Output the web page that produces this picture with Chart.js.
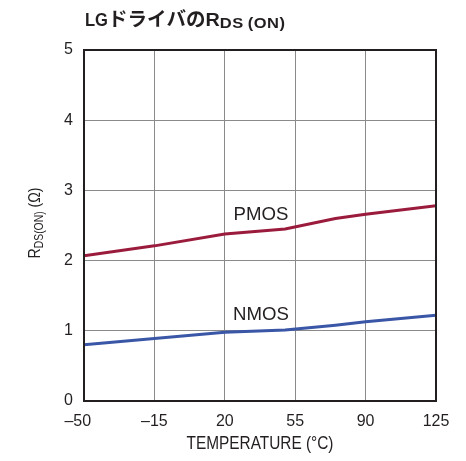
<!DOCTYPE html>
<html lang="ja">
<head>
<meta charset="UTF-8">
<title>LG driver RDS(ON)</title>
<script src="https://cdn.jsdelivr.net/npm/chart.js"></script>
<style>
  html, body { margin: 0; padding: 0; background: #fff; }
</style>
</head>
<body>
<canvas id="chart" width="466" height="461"></canvas>
<script>
const temps = [-50, -15, 20, 50, 75, 90, 125];
const pmos = [2.07, 2.21, 2.38, 2.45, 2.60, 2.66, 2.78];
const nmos = [0.80, 0.89, 0.98, 1.01, 1.08, 1.13, 1.22];
const xTicks = [-50, -15, 20, 55, 90, 125];
const seriesLabels = [
  { text: 'PMOS', x: 38, y: 2.68 },
  { text: 'NMOS', x: 38, y: 1.25 }
];

const ink = '#231f20';
const sans = '"Liberation Sans", Arial, sans-serif';
const jp = '"Noto Sans CJK JP", sans-serif';

// draw a run of text pieces, each with its own font / horizontal squeeze / baseline shift
function drawRun(ctx, parts, x, y) {
  let cx = x;
  parts.forEach(p => {
    ctx.save();
    ctx.font = p.f;
    ctx.letterSpacing = (p.ls || 0) + 'px';
    const w = ctx.measureText(p.t).width * (p.sx || 1);
    ctx.translate(cx, y + (p.dy || 0));
    ctx.scale(p.sx || 1, 1);
    ctx.fillText(p.t, 0, 0);
    ctx.restore();
    cx += w;
  });
  return cx - x;
}

function runWidth(ctx, parts) {
  let w = 0;
  parts.forEach(p => {
    ctx.save();
    ctx.font = p.f;
    ctx.letterSpacing = (p.ls || 0) + 'px';
    w += ctx.measureText(p.t).width * (p.sx || 1);
    ctx.restore();
  });
  return w;
}

const extras = {
  id: 'extras',
  afterDatasetsDraw(chart) {
    const { ctx, chartArea: a, scales: { x, y } } = chart;
    ctx.save();
    // frame
    ctx.strokeStyle = ink;
    ctx.lineWidth = 2;
    ctx.strokeRect(a.left, a.top, a.right - a.left, a.bottom - a.top);

    ctx.fillStyle = ink;
    ctx.textAlign = 'left';
    ctx.textBaseline = 'alphabetic';

    // chart title
    drawRun(ctx, [
      { t: 'LG', f: 'bold 18px ' + sans, sx: 0.92 },
      { t: 'ドライバの', f: 'bold 19.5px ' + jp },
      { t: 'R', f: 'bold 18px ' + sans, sx: 1.1 },
      { t: 'DS\u2009(ON)', f: 'bold 15px ' + sans, sx: 1.1, ls: 0.5, dy: 2 }
    ], 85, 26);

    // series labels
    seriesLabels.forEach(l => {
      const p = [{ t: l.text, f: '19px ' + sans, sx: 0.98 }];
      const w = runWidth(ctx, p);
      drawRun(ctx, p, x.getPixelForValue(l.x) - w / 2, y.getPixelForValue(l.y) + 7);
    });

    // x title
    const xt = [{ t: 'TEMPERATURE (°C)', f: '18px ' + sans, sx: 0.855 }];
    drawRun(ctx, xt, (a.left + a.right) / 2 - runWidth(ctx, xt) / 2, 449);

    // y title, rotated with subscript
    const yt = [
      { t: 'R', f: '17px ' + sans, sx: 0.83 },
      { t: 'DS(ON)', f: '12.5px ' + sans, sx: 0.83, dy: 3 },
      { t: ' (Ω)', f: '17px ' + sans, sx: 0.83 }
    ];
    ctx.translate(40, 223);
    ctx.rotate(-Math.PI / 2);
    drawRun(ctx, yt, -runWidth(ctx, yt) / 2, 0);
    ctx.restore();
  }
};

new Chart(document.getElementById('chart'), {
  type: 'line',
  data: {
    datasets: [
      {
        label: 'PMOS',
        data: temps.map((t, i) => ({ x: t, y: pmos[i] })),
        borderColor: '#9b1b3d',
        borderWidth: 3,
        pointRadius: 0,
        tension: 0
      },
      {
        label: 'NMOS',
        data: temps.map((t, i) => ({ x: t, y: nmos[i] })),
        borderColor: '#3a56a6',
        borderWidth: 3,
        pointRadius: 0,
        tension: 0
      }
    ]
  },
  options: {
    responsive: false,
    animation: false,
    layout: { padding: { left: 0, top: 50, right: 30, bottom: 0 } },
    plugins: { legend: { display: false }, tooltip: { enabled: false } },
    scales: {
      x: {
        type: 'linear',
        min: -50,
        max: 125,
        afterBuildTicks: s => { s.ticks = xTicks.map(v => ({ value: v })); },
        afterFit: s => { s.height = 60; },
        grid: { color: '#8a8a8a', lineWidth: 1, drawTicks: false },
        border: { color: ink, width: 2 },
        ticks: {
          padding: 11,
          color: ink,
          font: { family: sans, size: 16 },
          // first label sits a little left of its gridline, as in the original
          callback: v => v === -50 ? '\u201350\u2002 ' : (v < 0 ? '\u2013' + Math.abs(v) : String(v))
        }
      },
      y: {
        min: 0,
        max: 5,
        afterFit: s => { s.width = 84; },
        grid: { color: '#8a8a8a', lineWidth: 1, drawTicks: false },
        border: { color: ink, width: 2 },
        ticks: {
          stepSize: 1,
          padding: 11,
          color: ink,
          font: { family: sans, size: 16 }
        }
      }
    }
  },
  plugins: [extras]
});
</script>
</body>
</html>
